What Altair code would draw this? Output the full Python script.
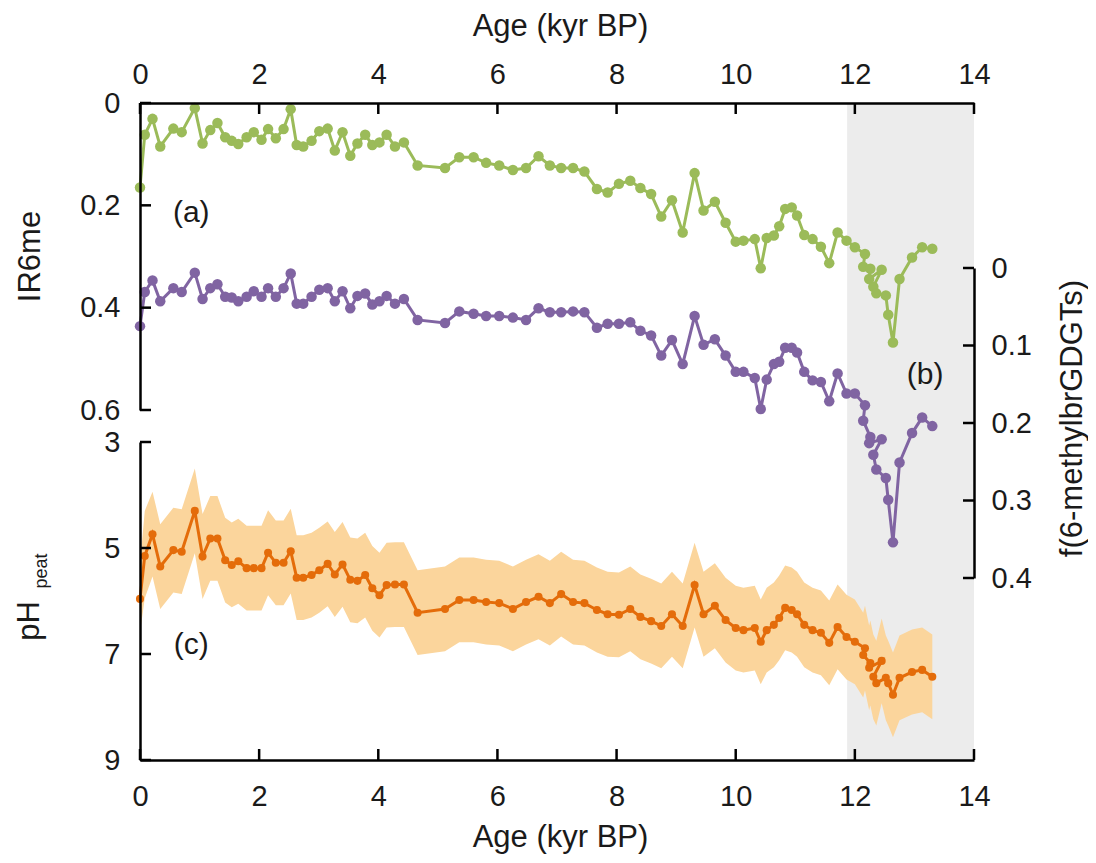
import altair as alt
import pandas as pd

# ---------------- data ----------------
AGE = [0.00, 0.08, 0.21, 0.34, 0.56, 0.70, 0.92, 1.05, 1.18, 1.30,
       1.43, 1.54, 1.65, 1.79, 1.91, 2.04, 2.15, 2.28, 2.41, 2.53,
       2.63, 2.74, 2.88, 3.01, 3.15, 3.27, 3.40, 3.53, 3.65, 3.78,
       3.90, 4.02, 4.14, 4.28, 4.43, 4.66,
       5.12, 5.36, 5.60, 5.81, 6.03, 6.26, 6.48, 6.69, 6.88, 7.07,
       7.27, 7.46, 7.67, 7.85, 8.04, 8.23, 8.40, 8.58, 8.75, 8.93,
       9.11, 9.31, 9.46,
       9.65, 9.83, 10.00, 10.13, 10.32, 10.42, 10.52, 10.64, 10.73, 10.83,
       10.94, 11.03, 11.15, 11.29, 11.43, 11.57, 11.71, 11.86, 12.00,
       12.17, 12.14, 12.26, 12.24, 12.45, 12.31, 12.36, 12.52, 12.56, 12.64,
       12.75, 12.96, 13.13, 13.30]

IR6ME = [0.165, 0.062, 0.031, 0.085, 0.050, 0.057, 0.010, 0.079, 0.053, 0.039,
         0.067, 0.074, 0.080, 0.067, 0.057, 0.072, 0.051, 0.069, 0.051, 0.012,
         0.082, 0.085, 0.074, 0.055, 0.050, 0.093, 0.057, 0.103, 0.079, 0.062,
         0.082, 0.077, 0.062, 0.085, 0.077, 0.122,
         0.127, 0.106, 0.106, 0.117, 0.122, 0.131, 0.127, 0.104, 0.122, 0.127,
         0.127, 0.134, 0.168, 0.175, 0.158, 0.152, 0.166, 0.178, 0.222, 0.190,
         0.253, 0.137, 0.210,
         0.193, 0.234, 0.271, 0.269, 0.266, 0.323, 0.264, 0.259, 0.241, 0.207,
         0.204, 0.220, 0.258, 0.266, 0.281, 0.313, 0.253, 0.269, 0.282,
         0.295, 0.320, 0.324, 0.344, 0.326, 0.359, 0.372, 0.376, 0.414, 0.468,
         0.344, 0.302, 0.282, 0.285]

F6ME = [0.075, 0.031, 0.016, 0.043, 0.026, 0.031, 0.006, 0.040, 0.026, 0.021,
        0.037, 0.038, 0.043, 0.037, 0.030, 0.037, 0.026, 0.037, 0.026, 0.007,
        0.046, 0.046, 0.037, 0.028, 0.026, 0.043, 0.030, 0.052, 0.036, 0.033,
        0.047, 0.043, 0.036, 0.046, 0.040, 0.067,
        0.071, 0.056, 0.059, 0.062, 0.062, 0.064, 0.067, 0.052, 0.057, 0.057,
        0.056, 0.057, 0.077, 0.072, 0.072, 0.070, 0.081, 0.087, 0.113, 0.093,
        0.124, 0.062, 0.099,
        0.092, 0.113, 0.134, 0.134, 0.142, 0.182, 0.144, 0.124, 0.121, 0.103,
        0.103, 0.109, 0.134, 0.145, 0.147, 0.172, 0.136, 0.162, 0.162,
        0.177, 0.197, 0.218, 0.226, 0.221, 0.241, 0.260, 0.271, 0.299, 0.354,
        0.251, 0.213, 0.193, 0.204]

PH = [5.96, 5.15, 4.74, 5.35, 5.04, 5.07, 4.30, 5.16, 4.82, 4.82,
      5.23, 5.32, 5.25, 5.38, 5.38, 5.38, 5.09, 5.28, 5.28, 5.06,
      5.56, 5.56, 5.51, 5.42, 5.30, 5.50, 5.31, 5.60, 5.62, 5.51,
      5.76, 5.89, 5.70, 5.69, 5.69, 6.22,
      6.15, 5.98, 5.98, 6.02, 6.04, 6.15, 6.02, 5.92, 6.04, 5.87,
      6.02, 6.04, 6.17, 6.25, 6.26, 6.15, 6.30, 6.38, 6.47, 6.25,
      6.47, 5.70, 6.25,
      6.09, 6.36, 6.51, 6.55, 6.51, 6.77, 6.55, 6.45, 6.32, 6.13,
      6.17, 6.25, 6.45, 6.55, 6.60, 6.79, 6.49, 6.68, 6.77,
      6.89, 7.02, 7.17, 7.26, 7.13, 7.43, 7.55, 7.45, 7.55, 7.77,
      7.45, 7.34, 7.30, 7.43]

PH_BAND_TOP = [5.30, 4.30, 3.94, 4.55, 4.24, 4.27, 3.50, 4.36, 4.02, 4.02,
               4.43, 4.52, 4.45, 4.58, 4.58, 4.58, 4.29, 4.48, 4.48, 4.26,
               4.76, 4.76, 4.71, 4.62, 4.50, 4.70, 4.51, 4.80, 4.82, 4.71,
               4.96, 5.09, 4.90, 4.89, 4.89, 5.42,
               5.35, 5.18, 5.18, 5.22, 5.24, 5.35, 5.22, 5.12, 5.24, 5.07,
               5.22, 5.24, 5.37, 5.45, 5.46, 5.35, 5.50, 5.58, 5.67, 5.45,
               5.67, 4.90, 5.45,
               5.29, 5.56, 5.71, 5.75, 5.71, 5.97, 5.75, 5.65, 5.52, 5.33,
               5.37, 5.45, 5.65, 5.75, 5.80, 5.99, 5.69, 5.88, 5.97,
               6.09, 6.22, 6.37, 6.46, 6.33, 6.63, 6.75, 6.65, 6.75, 6.97,
               6.65, 6.54, 6.50, 6.63]

PH_BAND_BOTTOM = [6.60, 5.95, 5.54, 6.15, 5.84, 5.87, 5.10, 5.96, 5.62, 5.62,
                  6.03, 6.12, 6.05, 6.18, 6.18, 6.18, 5.89, 6.08, 6.08, 5.86,
                  6.36, 6.36, 6.31, 6.22, 6.10, 6.30, 6.11, 6.40, 6.42, 6.31,
                  6.56, 6.69, 6.50, 6.49, 6.49, 7.02,
                  6.95, 6.78, 6.78, 6.82, 6.84, 6.95, 6.82, 6.72, 6.84, 6.67,
                  6.82, 6.84, 6.97, 7.05, 7.06, 6.95, 7.10, 7.18, 7.27, 7.05,
                  7.27, 6.50, 7.05,
                  6.89, 7.16, 7.31, 7.35, 7.31, 7.57, 7.35, 7.25, 7.12, 6.93,
                  6.97, 7.05, 7.25, 7.35, 7.40, 7.59, 7.29, 7.48, 7.57,
                  7.69, 7.82, 7.97, 8.06, 7.93, 8.23, 8.35, 8.25, 8.35, 8.57,
                  8.25, 8.14, 8.10, 8.23]

X_TICKS = [0, 2, 4, 6, 8, 10, 12, 14]
IR_TICKS = [0, 0.2, 0.4, 0.6]
F_TICKS = [0, 0.1, 0.2, 0.3, 0.4]
PH_TICKS = [3, 5, 7, 9]
SHADE_START = [11.87]
SHADE_END = [14]
PANEL_LABELS = ["(a)", "(b)", "(c)"]

# ---------------- layout / style ----------------
W, H = 834, 657
FONT = "Liberation Sans"
TXT = "#1a1a1a"
GREEN, PURPLE, ORANGE, BAND, GREY = "#9bbb59", "#8064a2", "#e46c0a", "#fbd59c", "#ececec"

df = pd.DataFrame({"idx": list(range(len(AGE))), "age": AGE, "ir": IR6ME, "f": F6ME,
                   "ph": PH, "ph_top": PH_BAND_TOP, "ph_bot": PH_BAND_BOTTOM})


def xscale():
    return alt.Scale(domain=[0, 14], nice=False, zero=False)


def ir_scale():
    return alt.Scale(domain=[0, 0.6], range=[0, 307], nice=False, zero=False)


def f_scale():
    return alt.Scale(domain=[0, 0.4], range=[165, 475], nice=False, zero=False)


def ph_scale():
    return alt.Scale(domain=[3, 9], range=[339, H], nice=False, zero=False)


common_axis = dict(domainColor="black", domainWidth=2.5, ticks=False, tickSize=0, grid=False,
                   labelFont=FONT, labelFontSize=29, labelColor=TXT, titleFont=FONT,
                   titleFontSize=31, titleFontWeight="normal", titleColor=TXT,
                   labelFlush=False, labelOverlap=False, zindex=1)

top_axis = alt.Axis(orient="top", values=X_TICKS, format="d", labelPadding=14,
                    title="Age (kyr BP)", titleX=420, titleY=-68, titleAlign="center",
                    titleBaseline="alphabetic", titleAngle=0, **common_axis)
bottom_axis = alt.Axis(orient="bottom", values=X_TICKS, format="d", labelPadding=22,
                       title="Age (kyr BP)", titleX=420, titleY=86, titleAlign="center",
                       titleBaseline="alphabetic", titleAngle=0, **common_axis)
ir_axis = alt.Axis(orient="left", values=IR_TICKS, format="~g", labelPadding=20,
                   title="IR6me", titleAngle=270, titleAlign="center",
                   titleBaseline="alphabetic", titleX=-101, titleY=153, **common_axis)
ph_axis = alt.Axis(orient="left", values=PH_TICKS, format="d", labelPadding=20,
                   title="", **common_axis)
f_axis = alt.Axis(orient="right", values=F_TICKS, format="~g", labelPadding=17,
                  title="f(6-methylbrGDGTs)", titleAngle=270, titleAlign="center",
                  titleBaseline="alphabetic", titleX=107, titleY=315, **common_axis)

base = alt.Chart(df)

shade = alt.Chart(pd.DataFrame({"s": SHADE_START, "e": SHADE_END})).mark_rect(
    color=GREY).encode(x=alt.X("s:Q", scale=xscale(), axis=None), x2="e:Q")

band = base.mark_area(color=BAND, opacity=1).encode(
    x=alt.X("age:Q", scale=xscale(), axis=None),
    y=alt.Y("ph_top:Q", scale=ph_scale(), axis=None, stack=False),
    y2="ph_bot:Q")

ph_line = base.mark_line(color=ORANGE, strokeWidth=3).encode(
    x=alt.X("age:Q", scale=xscale(), axis=bottom_axis),
    y=alt.Y("ph:Q", scale=ph_scale(), axis=ph_axis),
    order=alt.Order("idx:Q"))
ph_pts = base.mark_circle(color=ORANGE, size=65, opacity=1).encode(
    x=alt.X("age:Q", scale=xscale(), axis=None),
    y=alt.Y("ph:Q", scale=ph_scale(), axis=None))

ir_line = base.mark_line(color=GREEN, strokeWidth=3).encode(
    x=alt.X("age:Q", scale=xscale(), axis=top_axis),
    y=alt.Y("ir:Q", scale=ir_scale(), axis=ir_axis),
    order=alt.Order("idx:Q"))
ir_pts = base.mark_circle(color=GREEN, size=110, opacity=1).encode(
    x=alt.X("age:Q", scale=xscale(), axis=None),
    y=alt.Y("ir:Q", scale=ir_scale(), axis=None))

f_line = base.mark_line(color=PURPLE, strokeWidth=3).encode(
    x=alt.X("age:Q", scale=xscale(), axis=None),
    y=alt.Y("f:Q", scale=f_scale(), axis=f_axis),
    order=alt.Order("idx:Q"))
f_pts = base.mark_circle(color=PURPLE, size=110, opacity=1).encode(
    x=alt.X("age:Q", scale=xscale(), axis=None),
    y=alt.Y("f:Q", scale=f_scale(), axis=None))

# inward-pointing ticks
TL = 11
rule_kw = dict(color="black", strokeWidth=2.5)
top_ticks = alt.Chart(pd.DataFrame({"v": X_TICKS})).mark_rule(**rule_kw).encode(
    x=alt.X("v:Q", scale=xscale(), axis=None), y=alt.value(0), y2=alt.value(TL))
bottom_ticks = alt.Chart(pd.DataFrame({"v": X_TICKS})).mark_rule(**rule_kw).encode(
    x=alt.X("v:Q", scale=xscale(), axis=None), y=alt.value(H), y2=alt.value(H - TL))
ir_ticks = alt.Chart(pd.DataFrame({"v": IR_TICKS})).mark_rule(**rule_kw).encode(
    y=alt.Y("v:Q", scale=ir_scale(), axis=None), x=alt.value(0), x2=alt.value(TL))
ph_ticks = alt.Chart(pd.DataFrame({"v": PH_TICKS})).mark_rule(**rule_kw).encode(
    y=alt.Y("v:Q", scale=ph_scale(), axis=None), x=alt.value(0), x2=alt.value(TL))
f_ticks = alt.Chart(pd.DataFrame({"v": F_TICKS})).mark_rule(**rule_kw).encode(
    y=alt.Y("v:Q", scale=f_scale(), axis=None), x=alt.value(W), x2=alt.value(W - TL))

# panel labels
txt_kw = dict(font=FONT, fontSize=30, color=TXT, align="center", baseline="middle")
lab_a = alt.Chart(pd.DataFrame({"t": [PANEL_LABELS[0]]})).mark_text(**txt_kw).encode(
    text="t:N",
    x=alt.XDatum(0.86, type="quantitative", scale=xscale(), axis=None),
    y=alt.YDatum(0.215, type="quantitative", scale=ir_scale(), axis=None))
lab_b = alt.Chart(pd.DataFrame({"t": [PANEL_LABELS[1]]})).mark_text(**txt_kw).encode(
    text="t:N",
    x=alt.XDatum(13.18, type="quantitative", scale=xscale(), axis=None),
    y=alt.YDatum(0.138, type="quantitative", scale=f_scale(), axis=None))
lab_c = alt.Chart(pd.DataFrame({"t": [PANEL_LABELS[2]]})).mark_text(**txt_kw).encode(
    text="t:N",
    x=alt.XDatum(0.86, type="quantitative", scale=xscale(), axis=None),
    y=alt.YDatum(6.83, type="quantitative", scale=ph_scale(), axis=None))

# pH with subscript "peat" as the pH axis title
ph_title = alt.Chart(pd.DataFrame({"t": ["pH"]})).mark_text(
    font=FONT, fontSize=31, color=TXT, align="center", baseline="alphabetic", angle=270
).encode(text="t:N", x=alt.value(-101), y=alt.value(518))
ph_sub = alt.Chart(pd.DataFrame({"t": ["peat"]})).mark_text(
    font=FONT, fontSize=18, color=TXT, align="center", baseline="alphabetic", angle=270
).encode(text="t:N", x=alt.value(-93), y=alt.value(468))

chart = alt.layer(
    shade, band, ph_line, ph_pts, ir_line, ir_pts, f_line, f_pts,
    top_ticks, bottom_ticks, ir_ticks, ph_ticks, f_ticks,
    lab_a, lab_b, lab_c, ph_title, ph_sub,
).resolve_scale(x="independent", y="independent").properties(
    width=W, height=H,
    autosize=alt.AutoSizeParams(type="none"),
    padding={"left": 132, "top": 95, "right": 114, "bottom": 95},
).configure_view(stroke=None)

chart.save("out.html", embed_options={"renderer": "svg", "actions": False})
